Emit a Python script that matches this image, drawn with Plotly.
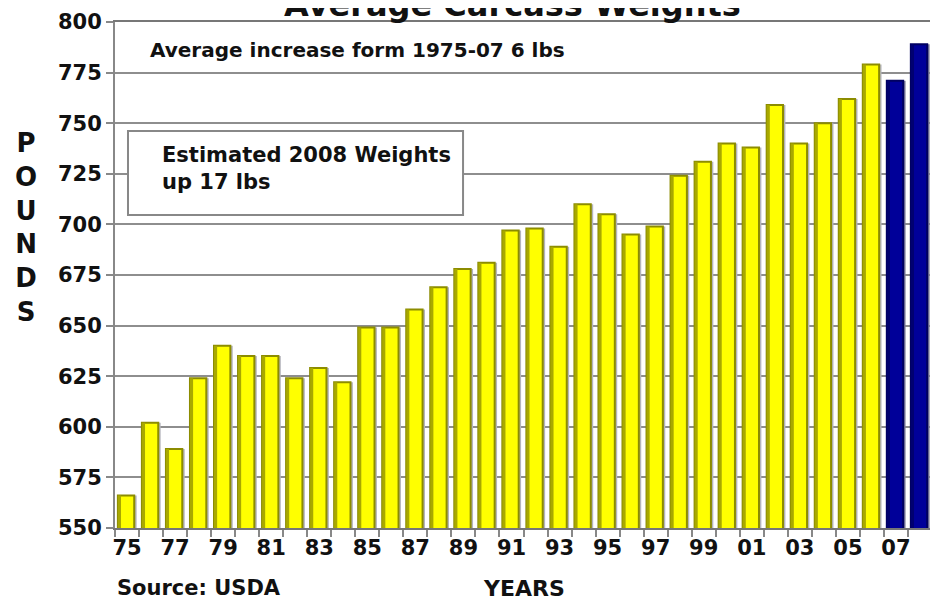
import plotly.graph_objects as go

# ---- data ----
years = ["75", "76", "77", "78", "79", "80", "81", "82", "83", "84",
         "85", "86", "87", "88", "89", "90", "91", "92", "93", "94",
         "95", "96", "97", "98", "99", "00", "01", "02", "03", "04",
         "05", "06", "07", "08"]
weights = [566, 602, 589, 624, 640, 635, 635, 624, 629, 622,
           649, 649, 658, 669, 678, 681, 697, 698, 689, 710,
           705, 695, 699, 724, 731, 740, 738, 759, 740, 750,
           762, 779, 771, 789]
highlighted = [False] * 32 + [True, True]
tick_labels = [y if i % 2 == 0 else "" for i, y in enumerate(years)]
y_ticks = [550, 575, 600, 625, 650, 675, 700, 725, 750, 775, 800]

title_text = "Average Carcass Weights"
note_text = "Average increase form 1975-07 6 lbs"
box_text = "Estimated 2008 Weights<br>up 17 lbs"
source_text = "Source: USDA"
xtitle_text = "YEARS"
ytitle_text = "P<br>O<br>U<br>N<br>D<br>S"

# ---- styles ----
FONT = "DejaVu Sans"
fill = ["#000099" if h else "#FFFF00" for h in highlighted]
edge = ["#000060" if h else "#8C8C00" for h in highlighted]
strip = ["#000070" if h else "#A8A800" for h in highlighted]
shadow = ["#7A7A98" if h else "#B4B4BC" for h in highlighted]

fig = go.Figure()
fig.add_trace(go.Bar(x=years, y=weights, offset=-0.28, width=0.68,
                     marker=dict(color=shadow, line=dict(width=0)),
                     hoverinfo="skip"))
fig.add_trace(go.Bar(x=years, y=weights, offset=-0.38, width=0.68,
                     marker=dict(color=fill, line=dict(color=edge, width=2))))
fig.add_trace(go.Bar(x=years, y=weights, offset=-0.38, width=0.13,
                     marker=dict(color=strip, line=dict(width=0)),
                     hoverinfo="skip"))

fig.update_layout(
    width=938, height=600, autosize=False,
    margin=dict(l=107, r=14, t=14, b=80, autoexpand=False),
    paper_bgcolor="white", plot_bgcolor="white",
    barmode="overlay", showlegend=False,
    font=dict(family=FONT, color="#111111"),
    xaxis=dict(type="category", range=[-0.5, len(years) - 0.5],
               tickmode="array", tickvals=years, ticktext=tick_labels,
               tickangle=0, automargin=False,
               tickson="boundaries", ticks="outside", ticklen=7,
               tickwidth=2, tickcolor="#888888",
               showgrid=False, showline=True, linecolor="#777777",
               linewidth=2, mirror=True,
               tickfont=dict(family=FONT, size=21, color="#111111",
                             weight="bold")),
    yaxis=dict(range=[550, 800], tickmode="array", tickvals=y_ticks,
               automargin=False,
               ticks="outside", ticklen=7, tickwidth=2,
               tickcolor="#888888",
               showgrid=True, gridcolor="#8E8E8E", gridwidth=2,
               showline=True, linecolor="#888888", linewidth=2,
               mirror=True, zeroline=False,
               tickfont=dict(family=FONT, size=21, color="#111111",
                             weight="bold")),
)

# estimate box
fig.add_shape(type="rect", xref="paper", yref="paper",
              x0=0.0159, x1=0.426, y0=0.6186, y1=0.7846,
              line=dict(color="#888888", width=2), fillcolor="white",
              layer="above")

bold = dict(family=FONT, color="#111111", weight="bold")
fig.add_annotation(text=title_text, xref="paper", yref="paper",
                   x=0.487, y=1.034, xanchor="center", yanchor="middle",
                   showarrow=False, font=dict(bold, size=32))
fig.add_annotation(text=note_text, xref="paper", yref="paper",
                   x=0.0404, y=0.9447, xanchor="left", yanchor="middle",
                   showarrow=False, font=dict(bold, size=20))
fig.add_annotation(text=box_text, xref="paper", yref="paper",
                   x=0.0551, y=0.7095, xanchor="left", yanchor="middle",
                   align="left", showarrow=False, font=dict(bold, size=21))
fig.add_annotation(text=source_text, xref="paper", yref="paper",
                   x=0.0, y=-0.1186, xanchor="left", yanchor="middle",
                   showarrow=False, font=dict(bold, size=21))
fig.add_annotation(text=xtitle_text, xref="paper", yref="paper",
                   x=0.5, y=-0.1186, xanchor="center", yanchor="middle",
                   showarrow=False, font=dict(bold, size=22))
fig.add_annotation(text=ytitle_text, xref="paper", yref="paper",
                   x=-0.109, y=0.594, xanchor="center", yanchor="middle",
                   showarrow=False, font=dict(bold, size=26))

fig.write_html("out.html")
